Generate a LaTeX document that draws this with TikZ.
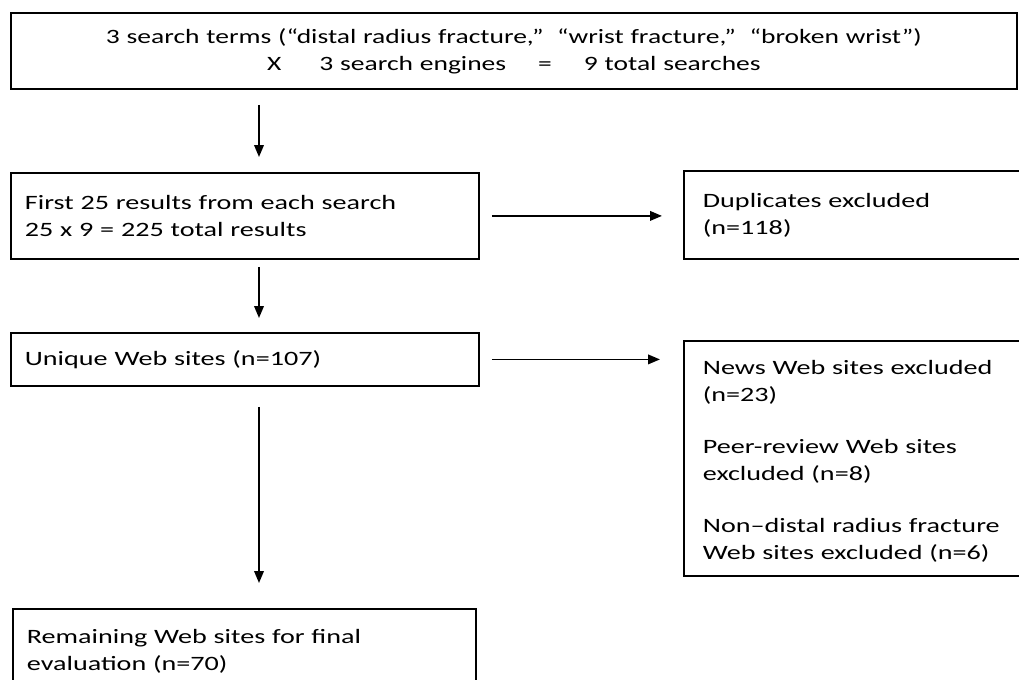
\documentclass[tikz,border=0pt]{standalone}
\usepackage{fontspec}
\setmainfont{Carlito}
\newfontfamily\topfont{Carlito}[Ligatures=TeX,FakeStretch=1.35]
\newfontfamily\boxfont{Carlito}[Ligatures=TeX,FakeStretch=1.38]
\usetikzlibrary{arrows.meta}

\tikzset{
  stage/.style={draw, line width=1.3pt, anchor=north west, inner ysep=0pt,
    inner xsep=0.35cm, align=left, font=\boxfont\fontsize{14.5}{19.2}\selectfont},
  flow/.style={line width=1.3pt, -{Triangle[length=0.3cm,width=0.24cm]}},
}

\begin{document}
\begin{tikzpicture}
    \useasboundingbox (0,0) rectangle (25.475,-17);
    \fill[white] (0,0) rectangle (25.475,-17);

    % boxes of the left column
    \node[stage, align=center, inner xsep=0pt, text width=25.15cm, minimum height=1.9cm,
      font=\topfont\fontsize{14.5}{19.2}\selectfont](terms) at (0.25,-0.3)
      {3 search terms (“distal radius fracture,”\ \ “wrist fracture,”\ \ “broken wrist”)\\
       X\hspace{0.95cm}3 search engines\hspace{0.8cm}=\hspace{0.8cm}9 total searches};
    \node[stage, text width=11cm, minimum height=2.15cm](results) at (0.25,-4.3)
      {First 25 results from each search\\25 x 9 = 225 total results};
    \node[stage, text width=11cm, minimum height=1.325cm](unique) at (0.25,-8.3)
      {Unique Web sites (n=107)};
    \node[stage, text width=10.875cm, minimum height=2.1cm](final) at (0.3,-15.2)
      {Remaining Web sites for final\\evaluation (n=70)};

    % boxes of the right column
    \node[stage, inner xsep=0.475cm, text width=7.7cm, minimum height=2.2cm](dups) at (17.075,-4.25)
      {Duplicates excluded\\(n=118)};
    \node[stage, inner xsep=0.475cm, text width=7.7cm, minimum height=5.875cm](excl) at (17.075,-8.5)
      {\rule{0pt}{14pt}News Web sites excluded\\(n=23)\\[17.8pt]
       Peer-review Web sites\\excluded (n=8)\\[17.8pt]
       Non–distal radius fracture\\Web sites excluded (n=6)};

    \coordinate (spine) at (6.475,0);

    \draw[flow, shorten <=0.375cm, shorten >=0.375cm] (terms.south -| spine) -- (results.north -| spine);
    \draw[flow, shorten <=0.175cm, shorten >=0.35cm] (results.south -| spine) -- (unique.north -| spine);
    \draw[flow, shorten <=0.5cm, shorten >=0.625cm] (unique.south -| spine) -- (final.north -| spine);
    \draw[flow, shorten <=0.3cm, shorten >=0.525cm] (results.east) -- (results.east -| dups.west);
    \draw[flow, shorten <=0.3cm, shorten >=0.575cm] (unique.east) -- (unique.east -| excl.west);
\end{tikzpicture}
\end{document}
